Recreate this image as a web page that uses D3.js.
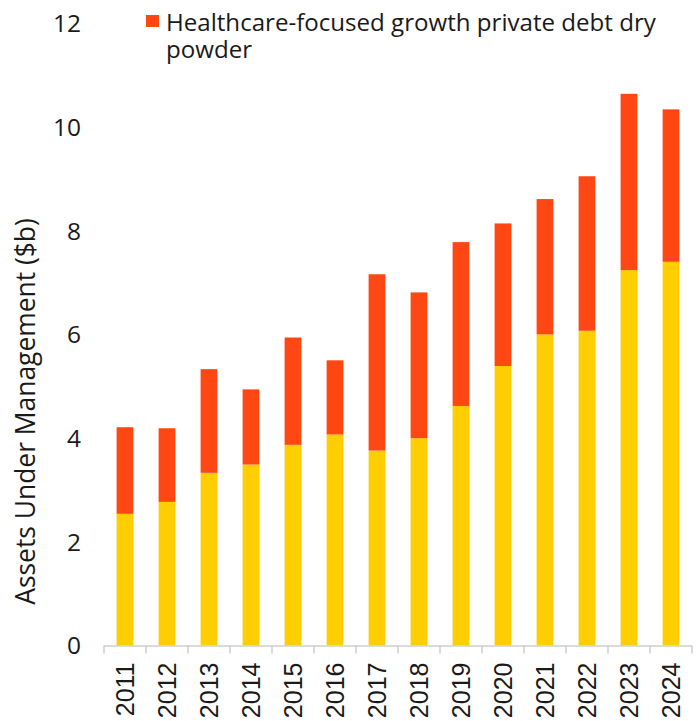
<!DOCTYPE html>
<html>
<head>
<meta charset="utf-8">
<script src="https://cdn.jsdelivr.net/npm/d3@7"></script>
<style>
  body { margin: 0; background: #fff; }
  text { fill: #1a1a1a; }
</style>
</head>
<body>
<div id="chart"></div>
<script>
var years = ["2011","2012","2013","2014","2015","2016","2017","2018","2019","2020","2021","2022","2023","2024"];
// lower (yellow) part of each bar
var invested = [2.54, 2.77, 3.33, 3.49, 3.87, 4.07, 3.76, 4.00, 4.62, 5.39, 6.00, 6.07, 7.24, 7.40];
// upper (orange) part: dry powder
var dryPowder = [1.67, 1.42, 2.00, 1.45, 2.07, 1.43, 3.40, 2.81, 3.16, 2.75, 2.61, 2.98, 3.40, 2.94];
var yTicks = [0, 2, 4, 6, 8, 10, 12];
var legendLines = ["Healthcare-focused growth private debt dry", "powder"];
var yTitle = "Assets Under Management ($b)";

var width = 699,
    height = 721,
    plotLeft = 104,
    plotRight = 692,
    plotTop = 23.3,
    plotBottom = 645.5,
    orange = "#ff4713",
    yellow = "#ffce00",
    font = "'Open Sans', Lato, sans-serif";

var svg = d3.select("#chart").append("svg")
  .attr("width", width)
  .attr("height", height);

var x = d3.scaleBand()
  .domain(years)
  .range([plotLeft, plotRight])
  .paddingInner(0.6)
  .paddingOuter(0.3);

var y = d3.scaleLinear()
  .domain([0, 12])
  .range([plotBottom, plotTop]);

var data = years.map(function (yr, i) {
  return { year: yr, invested: invested[i], dryPowder: dryPowder[i] };
});

var stack = d3.stack().keys(["invested", "dryPowder"]);
var series = stack(data);
var colors = { invested: yellow, dryPowder: orange };

svg.selectAll(".layer")
  .data(series)
  .enter()
  .append("g")
  .attr("class", "layer")
  .attr("fill", function (d) { return colors[d.key]; })
  .selectAll("rect")
  .data(function (d) { return d; })
  .enter()
  .append("rect")
  .attr("x", function (d) { return x(d.data.year); })
  .attr("width", x.bandwidth())
  .attr("y", function (d) { return y(d[1]); })
  .attr("height", function (d) { return y(d[0]) - y(d[1]); });

// y tick labels, no axis line
svg.selectAll(".ytick")
  .data(yTicks)
  .enter()
  .append("text")
  .attr("class", "ytick")
  .attr("x", 81)
  .attr("y", function (d) { return y(d); })
  .attr("dy", "0.36em")
  .attr("text-anchor", "end")
  .style("font-family", font)
  .style("font-size", "24.5px")
  .text(function (d) { return d; });

// x axis: line with ticks between the bars
var step = x.step();
var xAxis = svg.append("g").attr("class", "xaxis");
xAxis.append("line")
  .attr("x1", plotLeft).attr("x2", plotRight)
  .attr("y1", plotBottom + 0.5).attr("y2", plotBottom + 0.5)
  .attr("stroke", "#cfcfcf")
  .attr("stroke-width", 1.5);
xAxis.selectAll(".tick")
  .data(d3.range(years.length + 1))
  .enter()
  .append("line")
  .attr("x1", function (i) { return plotLeft + i * step; })
  .attr("x2", function (i) { return plotLeft + i * step; })
  .attr("y1", plotBottom)
  .attr("y2", plotBottom + 8)
  .attr("stroke", "#cfcfcf")
  .attr("stroke-width", 1.5);

xAxis.selectAll(".xlabel")
  .data(years)
  .enter()
  .append("text")
  .attr("class", "xlabel")
  .attr("transform", function (d) {
    return "translate(" + (x(d) + x.bandwidth() / 2) + "," + (plotBottom + 17) + ") rotate(-90)";
  })
  .attr("dy", "0.36em")
  .attr("text-anchor", "end")
  .style("font-family", "'Liberation Sans', Arial, sans-serif")
  .style("font-size", "25px")
  .text(function (d) { return d; });

// y axis title
svg.append("text")
  .attr("transform", "translate(35,411.5) rotate(-90)")
  .attr("text-anchor", "middle")
  .style("font-family", font)
  .style("font-size", "26.4px")
  .text(yTitle);

// legend
var legend = svg.append("g").attr("class", "legend");
legend.append("rect")
  .attr("x", 146).attr("y", 15)
  .attr("width", 13).attr("height", 12)
  .attr("fill", orange);
legend.selectAll("text")
  .data(legendLines)
  .enter()
  .append("text")
  .attr("x", 166)
  .attr("y", function (d, i) { return 31 + i * 27; })
  .style("font-family", font)
  .style("font-size", "24.1px")
  .text(function (d) { return d; });
</script>
</body>
</html>
